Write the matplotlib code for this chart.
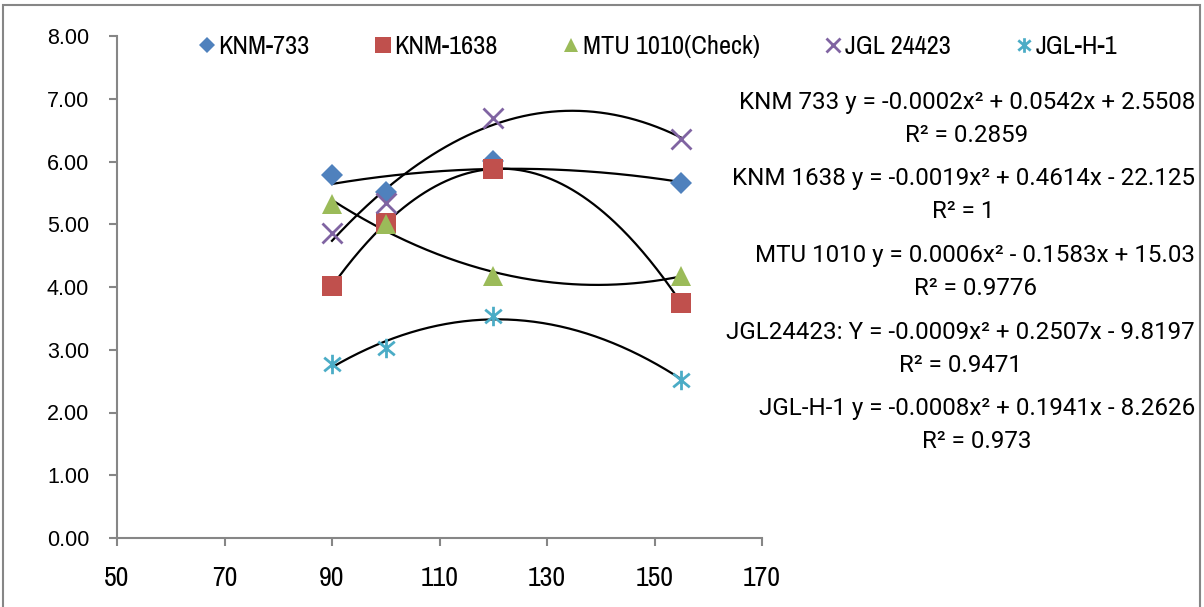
import matplotlib.pyplot as plt
import numpy as np
from matplotlib.path import Path
from matplotlib.patches import Rectangle

days = [90, 100, 120, 155]

names = ['KNM-733', 'KNM-1638', 'MTU 1010(Check)', 'JGL 24423', 'JGL-H-1']
knm733 = [5.78, 5.52, 6.01, 5.65]
knm1638 = [4.01, 5.02, 5.88, 3.74]
mtu1010 = [5.32, 5.01, 4.18, 4.18]
jgl24423 = [4.86, 5.34, 6.70, 6.36]
jglh1 = [2.78, 3.03, 3.54, 2.52]

eq_labels = [
    'KNM 733 y = -0.0002x² + 0.0542x + 2.5508\nR² = 0.2859',
    'KNM 1638 y = -0.0019x² + 0.4614x - 22.125\nR² = 1',
    'MTU 1010 y = 0.0006x² - 0.1583x + 15.03\nR² = 0.9776',
    'JGL24423: Y = -0.0009x² + 0.2507x - 9.8197\nR² = 0.9471',
    'JGL-H-1 y = -0.0008x² + 0.1941x - 8.2626\nR² = 0.973',
]

# excel style asterisk marker
star = Path([(0, -1), (0, 1), (-0.85, -0.7), (0.85, 0.7), (-0.85, 0.7), (0.85, -0.7)],
            [Path.MOVETO, Path.LINETO, Path.MOVETO, Path.LINETO, Path.MOVETO, Path.LINETO])

series = [knm733, knm1638, mtu1010, jgl24423, jglh1]
colors = ['#4F81BD', '#C0504D', '#9BBB59', '#8064A2', '#4BACC6']
markers = ['D', 's', '^', 'x', star]
sizes = [11, 14.5, 14, 14, 14]

narrow = ['Liberation Sans Narrow', 'Archivo Narrow', 'Roboto Condensed',
          'PT Sans Narrow', 'Liberation Sans', 'DejaVu Sans']

fig = plt.figure(figsize=(12.04, 6.07), dpi=100)
ax = fig.add_axes([117 / 1204, 1 - 538 / 607, (762 - 117) / 1204, (538 - 36) / 607])

fig.patches.append(Rectangle((3 / 1204, -0.01), 1197 / 1204, 1 - 5 / 607 + 0.01,
                             transform=fig.transFigure, fill=False,
                             edgecolor='#868686', linewidth=1.5))

# trendlines (2nd order poly) under the markers
xs = np.linspace(min(days), max(days), 200)
for ys in series:
    c = np.polyfit(days, ys, 2)
    ax.plot(xs, np.polyval(c, xs), color='black', linewidth=1.6, zorder=2)

handles = []
for ys, name, col, mk, ms in zip(series, names, colors, markers, sizes):
    if mk == 'x' or mk is star:
        h, = ax.plot(days, ys, linestyle='none', marker=mk, markersize=ms,
                     markeredgecolor=col, markeredgewidth=2, color=col, label=name, zorder=3)
    else:
        h, = ax.plot(days, ys, linestyle='none', marker=mk, markersize=ms,
                     color=col, markeredgewidth=0, label=name, zorder=3)
    handles.append(h)

ax.set_xlim(50, 170)
ax.set_ylim(0, 8)
ax.set_xticks(range(50, 171, 20))
ax.set_yticks(range(0, 9))
ax.set_yticklabels(['%.2f' % v for v in range(0, 9)], fontsize=15.5, family='Liberation Sans')
ax.set_xticklabels([str(v) for v in range(50, 171, 20)], fontsize=20, family=narrow)

for s in ['top', 'right']:
    ax.spines[s].set_visible(False)
for s in ['left', 'bottom']:
    ax.spines[s].set_color('#868686')
    ax.spines[s].set_linewidth(1.5)
ax.tick_params(axis='both', colors='#868686', length=6, width=1.5, labelcolor='black')
ax.tick_params(axis='y', pad=14)
ax.tick_params(axis='x', pad=14)

fig.legend(handles=handles, loc='center left', bbox_to_anchor=(175 / 1204, 1 - 47 / 607),
           ncol=5, frameon=False, prop={'family': narrow, 'size': 19},
           handlelength=0.6, handletextpad=0.12, columnspacing=2.5, markerscale=0.75)

eq_y = [119, 195, 272, 349, 425]
for lab, yy in zip(eq_labels, eq_y):
    fig.text(1195 / 1204, 1 - yy / 607, lab, ha='right', va='center',
             multialignment='center', fontsize=17.4, family='Roboto', linespacing=1.6)

fig.savefig('out.png', dpi=100)
